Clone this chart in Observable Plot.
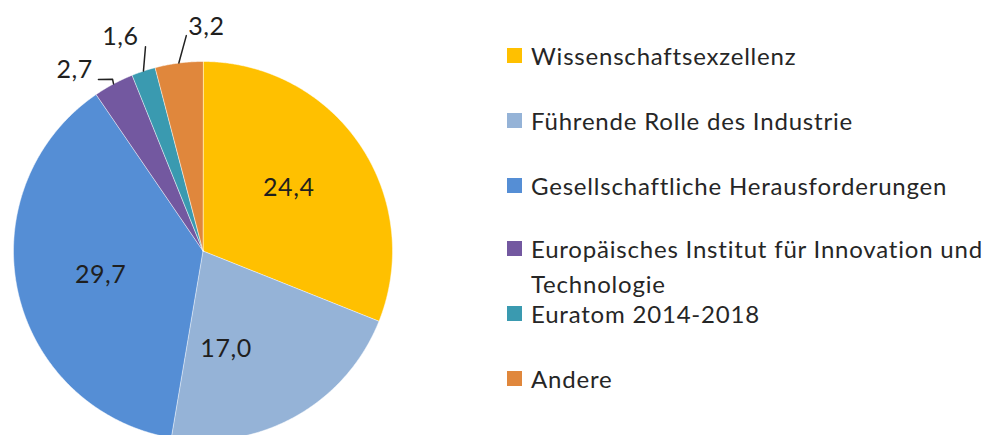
<!DOCTYPE html>
<html>
<head>
<meta charset="utf-8">
<script src="https://cdn.jsdelivr.net/npm/d3@7"></script>
<script src="https://cdn.jsdelivr.net/npm/@observablehq/plot@0.6"></script>
<style>
  html, body { margin: 0; padding: 0; background: #fff; }
  #wrap { position: relative; width: 989px; height: 435px; overflow: hidden; font-family: Lato, "Open Sans", sans-serif; font-variant-ligatures: none; }
  #chart { position: absolute; left: 0; top: 0; }
  #chart text { font-variant-ligatures: none; }
  .item { position: absolute; left: 507px; display: flex; align-items: flex-start; line-height: 35px; font-size: 24px; letter-spacing: 0.8px; color: #262626; }
  .sw { width: 15px; height: 15px; margin-top: 10px; margin-right: 9px; flex: none; }
  .lt { width: 458px; white-space: normal; }
</style>
</head>
<body>
<div id="wrap"><div id="chart"></div></div>
<script>
// ---- data ----
const categories = [
  "Wissenschaftsexzellenz",
  "Führende Rolle des Industrie",
  "Gesellschaftliche Herausforderungen",
  "Europäisches Institut für Innovation und Technologie",
  "Euratom 2014-2018",
  "Andere"
];
const values = [24.4, 17.0, 29.7, 2.7, 1.6, 3.2];
const valueLabels = ["24,4", "17,0", "29,7", "2,7", "1,6", "3,2"];

// ---- styling / layout (not data) ----
const palette = ["#FFC000", "#95B3D7", "#558ED5", "#7358A0", "#3A9AB0", "#E0873C"];
const W = 989, H = 435;
const cx = 202.5, cy = 250.5, R = 189.5;          // pie centre & radius in px
// label placement: radius (in pie radii) and angular shift (deg) from slice mid-angle
const labelLayout = [
  {r: 0.56, shift: -2}, {r: 0.53, shift: 16}, {r: 0.555, shift: -1},
  {r: 1.17, shift: -7.2}, {r: 1.21, shift: -2.8}, {r: 1.18, shift: 8.2}
];
// leader polylines (polar: radius, shift deg) for the outside labels
const leaderLayout = {
  3: [[1.0, 0], [1.024, 0.4], [1.06, -3.2]],
  4: [[1.0, 0], [1.12, 2.6]],
  5: [[1.0, 0], [1.14, 2.9]]
};
const legendTop = [55, 120, 185, 248, 313, 378];

// ---- geometry through d3.pie ----
const arcs = d3.pie().sort(null).value(d => d)(values);
const rad = Math.PI / 180;
const polar = (r, a) => ({x: r * Math.sin(a), y: r * Math.cos(a)});

const slicePts = [];
arcs.forEach((a, i) => {
  slicePts.push({cat: categories[i], ...polar(0, 0)});
  const n = Math.max(4, Math.ceil((a.endAngle - a.startAngle) / (0.3 * rad)));
  for (let k = 0; k <= n; k++) {
    const t = a.startAngle + (a.endAngle - a.startAngle) * k / n;
    slicePts.push({cat: categories[i], ...polar(1, t)});
  }
});

const labels = arcs.map((a, i) => {
  const mid = (a.startAngle + a.endAngle) / 2 + labelLayout[i].shift * rad;
  return {text: valueLabels[i], ...polar(labelLayout[i].r, mid)};
});

const leaders = [];
Object.entries(leaderLayout).forEach(([i, pts]) => {
  const a = arcs[+i];
  const mid = (a.startAngle + a.endAngle) / 2;
  pts.forEach(([r, s]) => leaders.push({id: i, ...polar(r, mid + s * rad)}));
});

const xDomain = [-cx / R, (W - cx) / R];
const yDomain = [-(H - cy) / R, cy / R];

const chart = Plot.plot({
  width: W, height: H, margin: 0,
  style: {background: "transparent", fontFamily: "Lato, 'Open Sans', sans-serif"},
  x: {domain: xDomain, axis: null},
  y: {domain: yDomain, axis: null},
  color: {domain: categories, range: palette},
  marks: [
    Plot.line(slicePts, {x: "x", y: "y", z: "cat", fill: "cat", stroke: "white", strokeWidth: 0.5, curve: "linear-closed", clip: "frame"}),
    Plot.line(leaders, {x: "x", y: "y", z: "id", stroke: "#222", strokeWidth: 1.5}),
    Plot.text(labels, {x: "x", y: "y", text: "text", fontSize: 25, fill: "#1f1f1f", style: "letter-spacing:0.6px"})
  ]
});
chart.querySelectorAll("text").forEach(t => t.style.letterSpacing = "0.6px");
document.getElementById("chart").appendChild(chart);

// ---- legend ----
const wrap = document.getElementById("wrap");
categories.forEach((c, i) => {
  const it = document.createElement("div");
  it.className = "item";
  it.style.top = (legendTop[i] - 17.5) + "px";
  const sw = document.createElement("div");
  sw.className = "sw";
  sw.style.background = palette[i];
  const t = document.createElement("div");
  t.className = "lt";
  t.textContent = c;
  it.appendChild(sw); it.appendChild(t);
  wrap.appendChild(it);
});
</script>
</body>
</html>
